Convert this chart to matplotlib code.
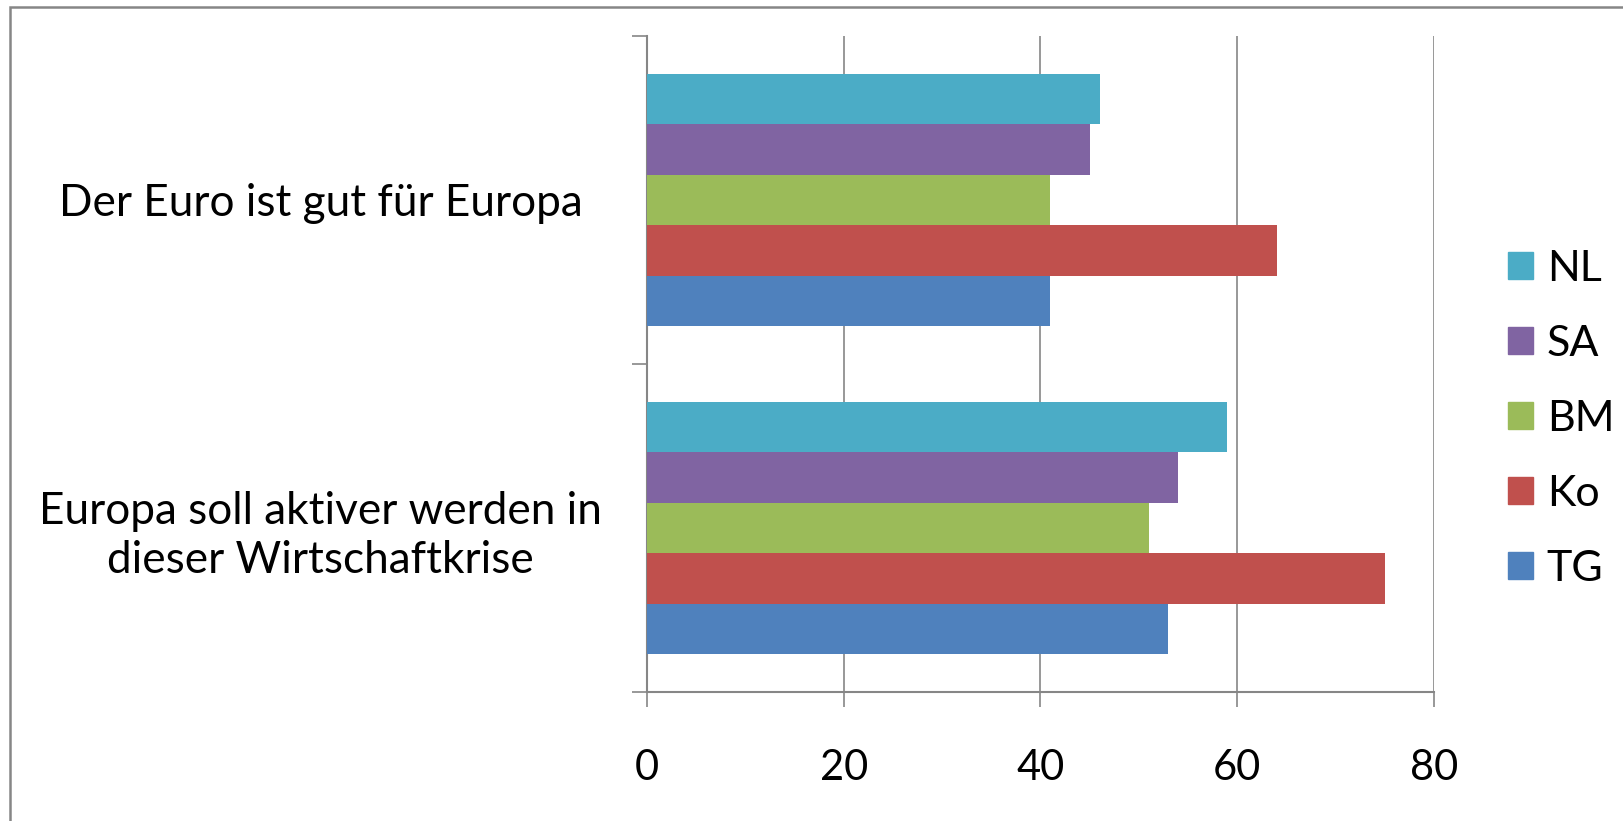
import numpy as np
import matplotlib
matplotlib.use('Agg')
import matplotlib.pyplot as plt
from matplotlib.patches import Rectangle, Patch

# data
categories = ['Der Euro ist gut für Europa',
              'Europa soll aktiver werden in\ndieser Wirtschaftkrise']
series = ['TG', 'Ko', 'BM', 'SA', 'NL']
TG = [41, 53]
Ko = [64, 75]
BM = [41, 51]
SA = [45, 54]
NL = [46, 59]
values = [TG, Ko, BM, SA, NL]
colors = ['#4F81BD', '#C0504D', '#9BBB59', '#8064A2', '#4BACC6']
xticks = [0, 20, 40, 60, 80]

GRAY = '#868686'
plt.rcParams['font.family'] = ['Lato', 'DejaVu Sans']

fig = plt.figure(figsize=(16.24, 8.21), dpi=100)
ax = fig.add_axes([647/1624, 1-692/821, (1434-647)/1624, (692-36)/821])

# categories top to bottom -> y centres 1.5, 0.5
centers = np.array([1.5, 0.5])
h = 1/6.5
for i, (vals, c) in enumerate(zip(values, colors)):
    ax.barh(centers + (i-2)*h, vals, height=h, color=c, zorder=3)

ax.set_xlim(0, 80)
ax.set_ylim(0, 2)
ax.set_xticks(xticks)
ax.set_xticklabels([str(v) for v in xticks], fontsize=30)
ax.tick_params(axis='x', direction='out', length=11, width=1.2, color=GRAY, pad=30)
ax.xaxis.grid(True, color=GRAY, linewidth=1.2, zorder=0)
ax.set_axisbelow(True)

ax.set_yticks(centers)
ax.set_yticklabels(categories, fontsize=31.8, ha='center', multialignment='center',
                   linespacing=1.25)
ax.tick_params(axis='y', which='major', length=0, pad=235)
ax.set_yticks([0, 1, 2], minor=True)
ax.tick_params(axis='y', which='minor', direction='out', length=11, width=1.2, color=GRAY)

for s in ['top', 'right']:
    ax.spines[s].set_visible(False)
for s in ['left', 'bottom']:
    ax.spines[s].set_color(GRAY)
    ax.spines[s].set_linewidth(1.5)

# legend NL..TG top to bottom
handles = [Patch(color=c, label=s) for s, c in zip(series[::-1], colors[::-1])]
fig.legend(handles=handles, loc='center left', bbox_to_anchor=(1508/1624, 1-419/821),
           frameon=False, fontsize=31, handlelength=0.58, handleheight=0.58,
           handletextpad=0.32, labelspacing=0.86, borderpad=0, borderaxespad=0)

# outer chart border
fig.patches.append(Rectangle((10/1624, -0.05), 1.0, 1-7/821+0.05, transform=fig.transFigure,
                             fill=False, edgecolor=GRAY, linewidth=1.8))

fig.savefig('out.png', dpi=100)
